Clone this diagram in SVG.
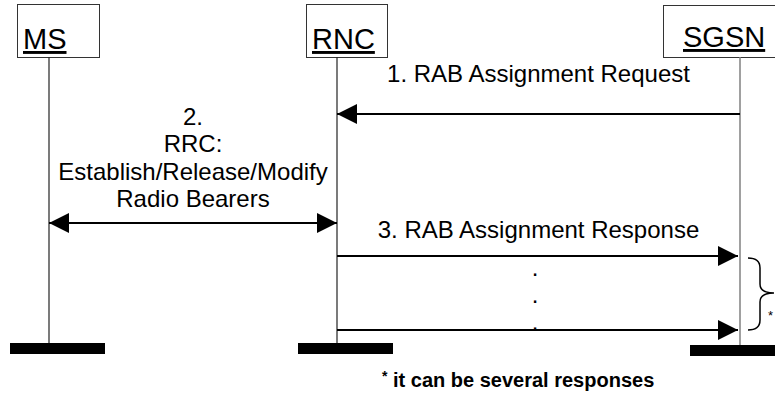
<svg xmlns="http://www.w3.org/2000/svg" width="775" height="396" viewBox="0 0 775 396">
<defs>
<marker id="ah" markerWidth="20" markerHeight="20" refX="20" refY="10" orient="auto-start-reverse" markerUnits="userSpaceOnUse">
<path d="M0,0 L20,10 L0,20 Z" fill="#000"/>
</marker>
<style>
.box{fill:#fff;stroke:#333;stroke-width:1}
.title{font-family:"Liberation Sans",Arial,sans-serif;font-size:29px;text-decoration:underline;fill:#000}
.life{stroke:#222;stroke-width:1.2}
.bar{fill:#000}
.msg{stroke:#000;stroke-width:2;fill:none}
.lbl{font-family:"Liberation Sans",Arial,sans-serif;font-size:24px;fill:#000;text-anchor:middle}
.note{font-family:"Liberation Sans",Arial,sans-serif;font-size:20px;font-weight:bold;fill:#000}
</style>
</defs>
<rect width="775" height="396" fill="#fff"/>
<g id="MS">
<rect class="box" x="17.5" y="4.5" width="82" height="53"/>
<text class="title" x="23" y="49">MS</text>
<line class="life" x1="49" y1="57" x2="49" y2="343"/>
<rect class="bar" x="10" y="343" width="95" height="11"/>
</g>
<g id="RNC">
<rect class="box" x="306.5" y="4.5" width="81" height="53"/>
<text class="title" x="312" y="49">RNC</text>
<line class="life" x1="337" y1="57" x2="337" y2="343"/>
<rect class="bar" x="298" y="343" width="95" height="11"/>
</g>
<g id="SGSN">
<rect class="box" x="663.5" y="5.5" width="120" height="52"/>
<text class="title" x="683" y="47">SGSN</text>
<line x1="740" y1="57" x2="740" y2="345" stroke="#808080" stroke-width="1.5"/>
<rect class="bar" x="690" y="345" width="85" height="11"/>
</g>
<g id="connectors">
<line class="msg" x1="740" y1="114" x2="337" y2="114" marker-end="url(#ah)"/>
<line class="msg" x1="49" y1="223" x2="337" y2="223" marker-start="url(#ah)" marker-end="url(#ah)"/>
<line class="msg" x1="337" y1="256" x2="738" y2="256" marker-end="url(#ah)"/>
<line class="msg" x1="337" y1="330" x2="738" y2="330" marker-end="url(#ah)"/>
<path d="M748,258 Q760,258 760,268 L760,284 Q760,293 774,293 Q760,293 760,302 L760,320 Q760,330 748,330" fill="none" stroke="#000" stroke-width="1.5"/>
</g>
<g id="labels">
<text class="lbl" x="538.5" y="82">1. RAB Assignment Request</text>
<text class="lbl" x="193" y="125">2.</text>
<text class="lbl" x="193" y="152">RRC:</text>
<text class="lbl" x="193" y="180">Establish/Release/Modify</text>
<text class="lbl" x="193" y="207">Radio Bearers</text>
<text class="lbl" x="538.5" y="238">3. RAB Assignment Response</text>
<text class="lbl" x="535" y="276">.</text>
<text class="lbl" x="535" y="303">.</text>
<text class="lbl" x="535" y="330">.</text>
<text x="768" y="320" font-family="Liberation Sans,Arial,sans-serif" font-size="13" fill="#000">*</text>
<text class="note" x="382" y="387"><tspan font-size="14" dy="-6">*</tspan><tspan dy="6"> it can be several responses</tspan></text>
</g>
</svg>
